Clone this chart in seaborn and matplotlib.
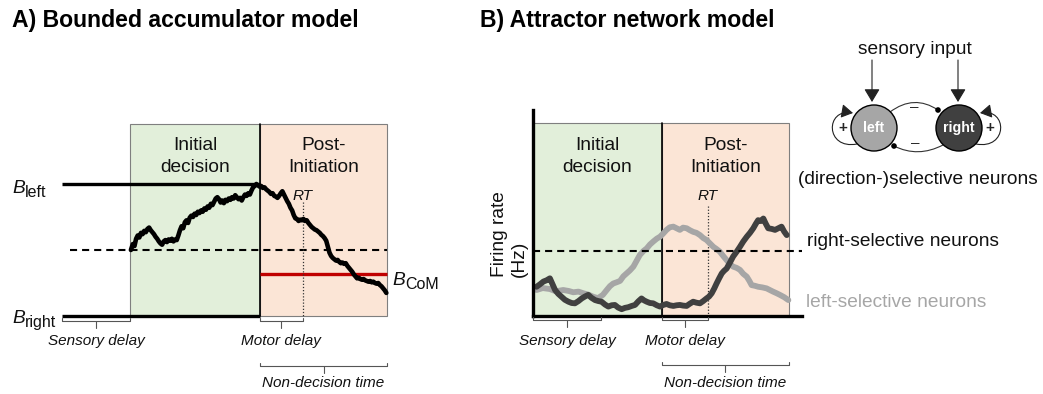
import numpy as np
import seaborn as sns
import matplotlib
matplotlib.use("Agg")
import matplotlib.pyplot as plt
from matplotlib.patches import Rectangle, Circle, FancyArrowPatch
from matplotlib.path import Path

W, H = 1043, 394

# ---------------- Panel A: bounded accumulator ----------------
A_SENSORY_END = 0.21
A_INITIATION = 0.61
A_RT = 0.74
A_END = 1.0
B_LEFT = 1.0
B_RIGHT = -1.0
B_COM = -0.36

acc_time = [
    0.212, 0.218, 0.223, 0.228, 0.233, 0.238, 0.243, 0.248, 0.253, 0.258,
    0.263, 0.268, 0.273, 0.278, 0.283, 0.288, 0.293, 0.298, 0.303, 0.308,
    0.313, 0.318, 0.323, 0.328, 0.333, 0.338, 0.343, 0.348, 0.353, 0.358,
    0.363, 0.368, 0.373, 0.378, 0.383, 0.388, 0.393, 0.398, 0.403, 0.408,
    0.413, 0.418, 0.423, 0.428, 0.433, 0.438, 0.443, 0.448, 0.453, 0.458,
    0.463, 0.468, 0.473, 0.478, 0.483, 0.488, 0.493, 0.498, 0.503, 0.508,
    0.513, 0.518, 0.523, 0.528, 0.533, 0.538, 0.543, 0.548, 0.553, 0.558,
    0.563, 0.568, 0.573, 0.578, 0.583, 0.588, 0.593, 0.598, 0.603, 0.608,
    0.613, 0.618, 0.623, 0.628, 0.633, 0.638, 0.643, 0.648, 0.653, 0.658,
    0.663, 0.668, 0.673, 0.678, 0.683, 0.688, 0.693, 0.698, 0.703, 0.708,
    0.713, 0.718, 0.723, 0.728, 0.733, 0.738, 0.743, 0.748, 0.753, 0.758,
    0.763, 0.768, 0.773, 0.778, 0.783, 0.788, 0.793, 0.798, 0.803, 0.808,
    0.813, 0.818, 0.823, 0.828, 0.833, 0.838, 0.843, 0.848, 0.853, 0.858,
    0.863, 0.868, 0.873, 0.878, 0.883, 0.888, 0.893, 0.898, 0.903, 0.908,
    0.913, 0.918, 0.923, 0.928, 0.933, 0.938, 0.943, 0.948, 0.953, 0.958,
    0.963, 0.968, 0.973, 0.978, 0.983, 0.988, 0.993, 0.998,
]
acc_value = [
    0.00, 0.09, 0.06, 0.17, 0.22, 0.19, 0.26, 0.24, 0.29, 0.27,
    0.32, 0.34, 0.30, 0.27, 0.24, 0.20, 0.17, 0.13, 0.10, 0.08,
    0.13, 0.15, 0.12, 0.16, 0.14, 0.17, 0.13, 0.16, 0.15, 0.22,
    0.30, 0.36, 0.33, 0.42, 0.45, 0.41, 0.49, 0.52, 0.50, 0.55,
    0.53, 0.58, 0.56, 0.60, 0.58, 0.63, 0.61, 0.66, 0.64, 0.70,
    0.68, 0.73, 0.78, 0.80, 0.77, 0.72, 0.75, 0.71, 0.76, 0.74,
    0.78, 0.76, 0.80, 0.78, 0.83, 0.80, 0.77, 0.79, 0.75, 0.80,
    0.84, 0.82, 0.86, 0.84, 0.90, 0.95, 0.97, 1.00, 0.98, 0.96,
    0.97, 0.94, 0.95, 0.92, 0.90, 0.88, 0.85, 0.86, 0.82, 0.81,
    0.79, 0.82, 0.86, 0.89, 0.84, 0.79, 0.74, 0.70, 0.64, 0.60,
    0.53, 0.48, 0.47, 0.44, 0.46, 0.45, 0.47, 0.44, 0.45, 0.41,
    0.38, 0.35, 0.33, 0.31, 0.30, 0.28, 0.26, 0.23, 0.21, 0.18,
    0.14, 0.05, -0.04, -0.09, -0.12, -0.14, -0.16, -0.15, -0.18, -0.20,
    -0.19, -0.21, -0.20, -0.24, -0.27, -0.30, -0.33, -0.37, -0.40, -0.43,
    -0.42, -0.44, -0.45, -0.44, -0.46, -0.47, -0.48, -0.47, -0.49, -0.48,
    -0.50, -0.51, -0.50, -0.53, -0.55, -0.58, -0.61, -0.65,
]

# ---------------- Panel B: attractor network ----------------
N_SENSORY_END = 0.21
N_INITIATION = 0.397
N_RT = 0.538
N_END = 0.788
N_XMAX = 0.828
RATE_THRESHOLD = 20.0
RATE_TOP = 59.4
RATE_YMAX = 63.4

left_time = [
    0.011, 0.030, 0.052, 0.070, 0.093, 0.110, 0.124, 0.140, 0.155, 0.170,
    0.186, 0.200, 0.215, 0.227, 0.237, 0.247, 0.258, 0.268, 0.278, 0.288,
    0.298, 0.309, 0.319, 0.329, 0.340, 0.350, 0.360, 0.370, 0.381, 0.391,
    0.401, 0.411, 0.421, 0.432, 0.442, 0.452, 0.462, 0.473, 0.483, 0.493,
    0.503, 0.514, 0.524, 0.534, 0.545, 0.555, 0.565, 0.575, 0.586, 0.596,
    0.606, 0.616, 0.627, 0.637, 0.647, 0.658, 0.666, 0.673, 0.683, 0.693,
    0.706, 0.719, 0.729, 0.739, 0.750, 0.760, 0.773, 0.786,
]
left_rate = [
    8.0, 8.6, 8.3, 7.6, 8.0, 7.7, 7.3, 7.5, 7.0, 6.6,
    5.9, 5.5, 6.5, 8.0, 9.2, 10.0, 10.4, 10.8, 12.2, 13.1,
    14.0, 15.2, 17.0, 18.8, 20.0, 20.8, 22.0, 22.9, 23.8, 24.4,
    25.4, 26.5, 27.3, 27.5, 27.0, 26.5, 27.2, 27.0, 26.4, 25.9,
    25.6, 24.9, 24.0, 23.4, 22.3, 21.3, 20.6, 19.8, 18.4, 17.2,
    16.0, 15.2, 14.8, 14.2, 13.0, 12.1, 10.8, 9.5, 9.3, 9.0,
    8.8, 8.5, 8.0, 7.5, 7.0, 6.5, 5.8, 4.9,
]

right_time = [
    0.011, 0.022, 0.032, 0.042, 0.052, 0.060, 0.068, 0.078, 0.088, 0.098,
    0.109, 0.119, 0.129, 0.140, 0.150, 0.160, 0.170, 0.180, 0.191, 0.201,
    0.211, 0.222, 0.232, 0.242, 0.252, 0.262, 0.273, 0.283, 0.293, 0.304,
    0.314, 0.324, 0.334, 0.342, 0.350, 0.360, 0.370, 0.381, 0.391, 0.401,
    0.411, 0.421, 0.432, 0.442, 0.452, 0.462, 0.473, 0.483, 0.493, 0.503,
    0.514, 0.524, 0.534, 0.542, 0.550, 0.558, 0.565, 0.573, 0.581, 0.588,
    0.596, 0.606, 0.616, 0.627, 0.637, 0.647, 0.658, 0.668, 0.678, 0.686,
    0.693, 0.701, 0.709, 0.716, 0.724, 0.735, 0.745, 0.755, 0.765, 0.773,
    0.781,
]
right_rate = [
    9.0, 9.8, 10.6, 11.0, 11.6, 9.8, 8.0, 6.8, 5.9, 5.0,
    4.4, 4.0, 3.9, 4.6, 5.4, 6.0, 6.5, 5.6, 4.9, 4.6,
    4.4, 3.5, 2.9, 3.3, 3.4, 2.6, 2.1, 2.5, 2.7, 3.1,
    3.4, 4.5, 5.4, 4.8, 4.4, 4.0, 3.9, 3.3, 2.9, 3.4,
    3.7, 3.3, 3.1, 3.3, 3.4, 3.2, 3.1, 3.8, 4.4, 4.1,
    3.9, 4.6, 5.4, 6.0, 7.0, 8.5, 10.0, 11.6, 13.1, 13.9,
    14.6, 16.4, 18.3, 19.8, 21.3, 22.9, 24.4, 25.6, 27.0, 28.4,
    29.5, 29.2, 30.0, 28.5, 27.0, 26.8, 26.5, 27.0, 27.5, 26.0,
    24.9,
]

# ---------------- style ----------------
GREEN = "#e2efda"
SALMON = "#fbe5d6"
EDGE = "#7f7f7f"
RED = "#c00000"
LIGHT = "#a6a6a6"
DARK = "#404040"
BRACKET = "#555555"
INK = "#111111"

sns.set_theme(style="white")
plt.rcParams["font.family"] = ["Liberation Sans", "DejaVu Sans"]

fig = plt.figure(figsize=(W / 100, H / 100), dpi=100)


def px_axes(x0, x1, ytop, ybot):
    return fig.add_axes([x0 / W, 1 - ybot / H, (x1 - x0) / W, (ybot - ytop) / H])


# ---- Panel A axes ----
ax_a = px_axes(62, 387, 124, 316)
a_top = B_LEFT + 60 / 66
ax_a.set_xlim(0, A_END)
ax_a.set_ylim(B_RIGHT, a_top)
ax_a.axis("off")

ax_a.add_patch(Rectangle((A_SENSORY_END, B_RIGHT), A_INITIATION - A_SENSORY_END,
                         a_top - B_RIGHT, fc=GREEN, ec=EDGE, lw=0.8, clip_on=False))
ax_a.add_patch(Rectangle((A_INITIATION, B_RIGHT), A_END - A_INITIATION,
                         a_top - B_RIGHT, fc=SALMON, ec=EDGE, lw=0.8, clip_on=False))
ax_a.plot([A_INITIATION] * 2, [B_RIGHT, a_top], color="black", lw=1.2, clip_on=False)

ax_a.plot([0, A_INITIATION], [B_LEFT] * 2, color="black", lw=2.4,
          solid_capstyle="butt", clip_on=False)
ax_a.plot([0, A_INITIATION], [B_RIGHT] * 2, color="black", lw=2.4,
          solid_capstyle="butt", clip_on=False)
ax_a.plot([0.025, A_END], [0, 0], color="black", lw=1.5,
          ls=(0, (3.4, 2.4)), clip_on=False)
ax_a.plot([A_INITIATION, A_END], [B_COM] * 2, color=RED, lw=2.4,
          solid_capstyle="butt", clip_on=False)
ax_a.plot([A_RT] * 2, [0.73, B_RIGHT], color="#333333", lw=0.9,
          ls=(0, (1, 1.5)), clip_on=False)
sns.lineplot(x=acc_time, y=acc_value, ax=ax_a, color="black", lw=3.3,
             estimator=None, sort=False, legend=False)
ax_a.lines[-1].set_solid_joinstyle("round")
ax_a.lines[-1].set_clip_on(False)

# ---- Panel B axes ----
ax_b = px_axes(533, 802, 110, 316)
ax_b.set_xlim(0, N_XMAX)
ax_b.set_ylim(0, RATE_YMAX)
ax_b.set_xticks([])
ax_b.set_yticks([])
sns.despine(ax=ax_b)
for side in ("left", "bottom"):
    ax_b.spines[side].set_linewidth(2.4)
    ax_b.spines[side].set_color("black")
    ax_b.spines[side].set_zorder(5)

ax_b.add_patch(Rectangle((0, 0), N_INITIATION, RATE_TOP,
                         fc=GREEN, ec=EDGE, lw=0.8, clip_on=False))
ax_b.add_patch(Rectangle((N_INITIATION, 0), N_END - N_INITIATION, RATE_TOP,
                         fc=SALMON, ec=EDGE, lw=0.8, clip_on=False))
ax_b.plot([N_INITIATION] * 2, [0, RATE_TOP], color="black", lw=1.2)
ax_b.plot([N_RT] * 2, [34, 0], color="#333333", lw=0.9, ls=(0, (1, 1.5)))
sns.lineplot(x=left_time, y=left_rate, ax=ax_b, color=LIGHT, lw=4.2,
             estimator=None, sort=False, legend=False)
sns.lineplot(x=right_time, y=right_rate, ax=ax_b, color=DARK, lw=4.2,
             estimator=None, sort=False, legend=False)
ax_b.plot([0, N_XMAX], [RATE_THRESHOLD] * 2, color="black", lw=1.5,
          ls=(0, (3.4, 2.4)), clip_on=False)

# ---- overlay in pixel units for labels and the network sketch ----
ov = fig.add_axes([0, 0, 1, 1])
ov.set_xlim(0, W)
ov.set_ylim(H, 0)
ov.axis("off")


def to_px(ax, x, y):
    dx, dy = ax.transData.transform((x, y))
    return dx, H - dy


def bracket(ax, t0, t1, y, up=3.5, down=6.5):
    x0 = to_px(ax, t0, 0)[0]
    x1 = to_px(ax, t1, 0)[0]
    xm = (x0 + x1) / 2
    ov.plot([x0, x0, x1, x1], [y - up, y, y, y - up], color=BRACKET, lw=0.8)
    ov.plot([xm, xm], [y, y + down], color=BRACKET, lw=0.8)
    return xm


TITLE = dict(fontsize=16.6, fontweight="bold", va="baseline", color="black")
ov.text(12, 27, "A) Bounded accumulator model", ha="left", **TITLE)
ov.text(480, 27, "B) Attractor network model", ha="left", **TITLE)

PHASE = dict(fontsize=13.8, ha="center", va="baseline", color=INK)
for ax, t0, t1, t2 in ((ax_a, A_SENSORY_END, A_INITIATION, A_END),
                       (ax_b, 0.0, N_INITIATION, N_END)):
    xg = (to_px(ax, t0, 0)[0] + to_px(ax, t1, 0)[0]) / 2
    xs = (to_px(ax, t1, 0)[0] + to_px(ax, t2, 0)[0]) / 2
    ov.text(xg, 150, "Initial", **PHASE)
    ov.text(xg, 172, "decision", **PHASE)
    ov.text(xs, 150, "Post-", **PHASE)
    ov.text(xs, 172, "Initiation", **PHASE)

SMALL = dict(fontsize=11, style="italic", ha="center", va="baseline", color=INK)
ov.text(to_px(ax_a, A_RT, 0)[0], 200, "RT", **SMALL)
ov.text(to_px(ax_b, N_RT, 0)[0], 200, "RT", **SMALL)

# time brackets
xm = bracket(ax_a, 0.0, A_SENSORY_END, 321)
ov.text(xm, 345, "Sensory delay", **SMALL)
xm = bracket(ax_a, A_INITIATION, A_RT, 321)
ov.text(xm, 345, "Motor delay", **SMALL)
xm = bracket(ax_a, A_INITIATION, A_END, 366)
ov.text(xm, 387, "Non-decision time", **SMALL)

xm = bracket(ax_b, 0.0, N_SENSORY_END, 320)
ov.text(xm, 345, "Sensory delay", **SMALL)
xm = bracket(ax_b, N_INITIATION, N_RT, 320)
ov.text(xm, 345, "Motor delay", **SMALL)
xm = bracket(ax_b, N_INITIATION, N_END, 365)
ov.text(xm, 387, "Non-decision time", **SMALL)

# bound labels
def bound_label(x, y, sub):
    ov.text(x, y, "B", fontsize=13.8, style="italic", ha="left", va="baseline", color=INK)
    ov.text(x + 13, y + 4, sub, fontsize=11.5, ha="left", va="baseline", color=INK)


bound_label(12, to_px(ax_a, 0, B_LEFT)[1] + 9, "left")
bound_label(12, to_px(ax_a, 0, B_RIGHT)[1] + 7, "right")
bound_label(392, to_px(ax_a, 0, B_COM)[1] + 11, "CoM")

# y label of panel B
ov.text(499, 277, "Firing rate", fontsize=13.8, rotation=90, rotation_mode="anchor",
        ha="left", va="center", color=INK)
ov.text(519, 277, "(Hz)", fontsize=13.8, rotation=90, rotation_mode="anchor",
        ha="left", va="center", color=INK)

# neuron population labels
LAB = dict(fontsize=13.8, ha="left", va="baseline")
ov.text(798, 184, "(direction-)selective neurons", color=INK, **LAB)
ov.text(807, 246, "right-selective neurons", color=INK, **LAB)
ov.text(806, 307, "left-selective neurons", color=LIGHT, **LAB)

# network sketch
ov.text(915, 54, "sensory input", fontsize=13.8, ha="center", va="baseline", color=INK)
for cx in (872, 958):
    ov.add_patch(FancyArrowPatch((cx, 60), (cx, 102),
                                 arrowstyle="-|>,head_length=0.5,head_width=0.3",
                                 mutation_scale=16, color="#222222", lw=0.8,
                                 shrinkA=0, shrinkB=0))

ov.add_patch(Circle((874, 128), 23, fc=LIGHT, ec="black", lw=1.0, zorder=3))
ov.add_patch(Circle((959, 128), 23, fc=DARK, ec="black", lw=1.0, zorder=3))
ov.text(874, 128, "left", color="white", fontsize=10.2, fontweight="bold",
        ha="center", va="center", zorder=4)
ov.text(959, 128, "right", color="white", fontsize=10.2, fontweight="bold",
        ha="center", va="center", zorder=4)

# mutual inhibition arcs
quad = [Path.MOVETO, Path.CURVE3, Path.CURVE3]
ov.add_patch(FancyArrowPatch(path=Path([(890, 112), (914, 94), (938, 110)], quad),
                             arrowstyle="-", color="#333333", lw=0.8))
ov.add_patch(FancyArrowPatch(path=Path([(943, 145), (918, 158), (894, 146)], quad),
                             arrowstyle="-", color="#333333", lw=0.8))
ov.add_patch(Circle((938, 110), 2.8, fc="black", ec="none", zorder=4))
ov.add_patch(Circle((894, 146), 2.8, fc="black", ec="none", zorder=4))
ov.text(914, 107, "\u2013", fontsize=11, ha="center", va="center")
ov.text(915, 143, "\u2013", fontsize=11, ha="center", va="center")

# self-excitation loops
cub = [Path.MOVETO, Path.CURVE4, Path.CURVE4, Path.CURVE4]
loop_l = [(857, 144), (825, 150), (825, 108), (853, 113)]
loop_r = [(1833 - x, y) for x, y in loop_l]
for pts in (loop_l, loop_r):
    ov.add_patch(FancyArrowPatch(path=Path(pts, cub),
                                 arrowstyle="-|>,head_length=0.5,head_width=0.3",
                                 mutation_scale=14, color="#222222", lw=0.8,
                                 zorder=2))
ov.text(843, 128, "+", fontsize=11, fontweight="bold", ha="center", va="center")
ov.text(990, 128, "+", fontsize=11, fontweight="bold", ha="center", va="center")

fig.savefig("out.png", dpi=100)
